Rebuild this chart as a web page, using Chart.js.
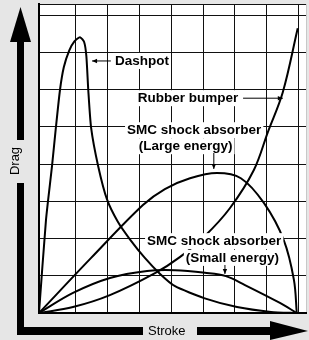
<!DOCTYPE html>
<html>
<head>
<meta charset="utf-8">
<script src="https://cdn.jsdelivr.net/npm/chart.js@4"></script>
<style>
  html, body { margin: 0; padding: 0; background: #e6e6e6; }
  #wrap { width: 309px; height: 340px; }
</style>
</head>
<body>
<div id="wrap"><canvas id="dragChart" width="309" height="340"></canvas></div>
<script>
// stroke / drag in grid units
const dashpot = [[0,0],[0.22,2.5],[0.41,3.95],[0.53,4.97],[0.66,5.99],[0.78,6.6],[0.95,7.05],[1.12,7.3],[1.29,7.41],[1.42,7.28],[1.49,6.9],[1.55,5.99],[1.64,4.97],[1.86,3.95],[2.14,3.05],[2.48,2.45],[2.86,1.98],[3.33,1.48],[3.81,1.05],[4.28,0.72],[5.19,0.4],[6.23,0.16],[7.3,0.03],[8.11,0]];
const largeEnergy = [[0,0],[1.64,1.48],[3.27,2.9],[3.96,3.33],[4.75,3.62],[5.6,3.76],[6.35,3.62],[7.08,2.95],[7.7,1.96],[8.02,0.89],[8.11,0]];
const smallEnergy = [[0,0],[1.07,0.54],[2.23,0.94],[3.4,1.13],[4.28,1.15],[5.22,1.08],[5.88,0.99],[6.48,0.75],[7.58,0.27],[8.11,0]];
const rubberBumper = [[0,0],[1.07,0.16],[2.23,0.48],[3.65,1.07],[4.43,1.5],[5.22,2.07],[6.01,2.82],[6.76,3.84],[7.2,4.86],[7.67,5.93],[8.14,7.65]];

const strokeGrid = [1.16, 2.16, 3.16, 4.16, 5.16, 6.16, 7.16, 8.16];
const dragGrid = [1, 2, 3, 4, 5, 6, 7, 8, 8.3];

// annotation texts
const notes = [
    { text: 'Dashpot', x: 2.39, y: 6.77 },
    { text: 'Rubber bumper', x: 3.11, y: 5.77 },
    { text: 'SMC shock absorber', x: 2.77, y: 4.91 },
    { text: '(Large energy)', x: 3.14, y: 4.48 },
    { text: 'SMC shock absorber', x: 3.40, y: 1.93 },
    { text: '(Small energy)', x: 4.62, y: 1.48 }
];
const leaders = [
    { from: [2.26, 6.77], to: [1.67, 6.77] },
    { from: [6.42, 5.77], to: [7.67, 5.77] },
    { from: [5.50, 4.30], to: [5.50, 3.87] },
    { from: [5.85, 1.29], to: [5.85, 1.05] }
];

const toPoints = arr => arr.map(p => ({ x: p[0], y: p[1] }));

const lineSet = (label, arr, tension) => ({
    label: label,
    data: toPoints(arr),
    borderColor: '#000',
    borderWidth: 2,
    pointRadius: 0,
    fill: false,
    tension: tension
});

const arrowHead = (ctx, x1, y1, x2, y2, len, half) => {
    const a = Math.atan2(y2 - y1, x2 - x1);
    ctx.beginPath();
    ctx.moveTo(x2, y2);
    ctx.lineTo(x2 - len * Math.cos(a) + half * Math.sin(a), y2 - len * Math.sin(a) - half * Math.cos(a));
    ctx.lineTo(x2 - len * Math.cos(a) - half * Math.sin(a), y2 - len * Math.sin(a) + half * Math.cos(a));
    ctx.closePath();
    ctx.fill();
};

const plotBack = {
    id: 'plotBack',
    beforeDraw(chart) {
        const { ctx, chartArea: a } = chart;
        ctx.save();
        ctx.fillStyle = '#fff';
        ctx.fillRect(a.left, a.top, a.right - a.left, a.bottom - a.top);
        ctx.strokeStyle = '#c8c8c8';
        ctx.lineWidth = 1;
        ctx.beginPath();
        ctx.moveTo(a.right + 0.5, a.top);
        ctx.lineTo(a.right + 0.5, a.bottom);
        ctx.stroke();
        ctx.restore();
    }
};

const annotations = {
    id: 'annotations',
    afterDatasetsDraw(chart) {
        const { ctx, scales: { x, y } } = chart;
        ctx.save();
        ctx.font = 'bold 13.5px "Liberation Sans", Arial, sans-serif';
        ctx.textBaseline = 'middle';
        notes.forEach(n => {
            const px = x.getPixelForValue(n.x);
            const py = y.getPixelForValue(n.y);
            const w = ctx.measureText(n.text).width;
            ctx.fillStyle = '#fff';
            ctx.fillRect(px - 2, py - 8, w + 4, 16);
        });
        ctx.fillStyle = '#000';
        notes.forEach(n => {
            ctx.fillText(n.text, x.getPixelForValue(n.x), y.getPixelForValue(n.y));
        });
        ctx.strokeStyle = '#000';
        ctx.lineWidth = 1;
        leaders.forEach(l => {
            const x1 = x.getPixelForValue(l.from[0]), y1 = y.getPixelForValue(l.from[1]);
            const x2 = x.getPixelForValue(l.to[0]), y2 = y.getPixelForValue(l.to[1]);
            ctx.beginPath();
            ctx.moveTo(x1, y1);
            ctx.lineTo(x2, y2);
            ctx.stroke();
            arrowHead(ctx, x1, y1, x2, y2, 5, 2.2);
        });
        ctx.restore();
    },
    afterDraw(chart) {
        const ctx = chart.ctx;
        ctx.save();
        ctx.fillStyle = '#000';
        // vertical arrow
        ctx.beginPath();
        ctx.moveTo(20.5, 7);
        ctx.lineTo(31, 42);
        ctx.lineTo(10, 42);
        ctx.closePath();
        ctx.fill();
        ctx.fillRect(17, 41, 7, 99);
        ctx.fillRect(17, 183, 7, 152);
        // horizontal arrow
        ctx.fillRect(17, 327, 126, 8);
        ctx.fillRect(197, 327, 75, 8);
        ctx.beginPath();
        ctx.moveTo(270, 321);
        ctx.lineTo(308, 331);
        ctx.lineTo(270, 340);
        ctx.closePath();
        ctx.fill();
        ctx.font = '13px "Liberation Sans", Arial, sans-serif';
        ctx.textBaseline = 'middle';
        ctx.textAlign = 'left';
        ctx.fillText('Stroke', 148, 331);
        ctx.translate(15, 161);
        ctx.rotate(-Math.PI / 2);
        ctx.textAlign = 'center';
        ctx.fillText('Drag', 0, 0);
        ctx.restore();
    }
};

const ctx = document.getElementById('dragChart').getContext('2d');
const dragChart = new Chart(ctx, {
    type: 'line',
    data: {
        datasets: [
            lineSet('Dashpot', dashpot, 0.2),
            lineSet('SMC shock absorber (Large energy)', largeEnergy, 0.35),
            lineSet('SMC shock absorber (Small energy)', smallEnergy, 0.35),
            lineSet('Rubber bumper', rubberBumper, 0.35)
        ]
    },
    options: {
        responsive: false,
        animation: false,
        layout: { padding: { left: 39, top: 4, right: 3, bottom: 27 } },
        plugins: { legend: { display: false }, tooltip: { enabled: false } },
        scales: {
            x: {
                type: 'linear',
                min: 0,
                max: 8.4,
                afterBuildTicks: s => { s.ticks = strokeGrid.map(v => ({ value: v })); },
                afterFit: s => { s.height = 0; },
                ticks: { display: false },
                grid: { color: '#111', lineWidth: 1, drawTicks: false },
                border: { color: '#000', width: 2 }
            },
            y: {
                type: 'linear',
                min: 0,
                max: 8.3,
                afterBuildTicks: s => { s.ticks = dragGrid.map(v => ({ value: v })); },
                afterFit: s => { s.width = 0; },
                ticks: { display: false },
                grid: { color: '#111', lineWidth: 1, drawTicks: false },
                border: { color: '#000', width: 2 }
            }
        }
    },
    plugins: [plotBack, annotations]
});
</script>
</body>
</html>
